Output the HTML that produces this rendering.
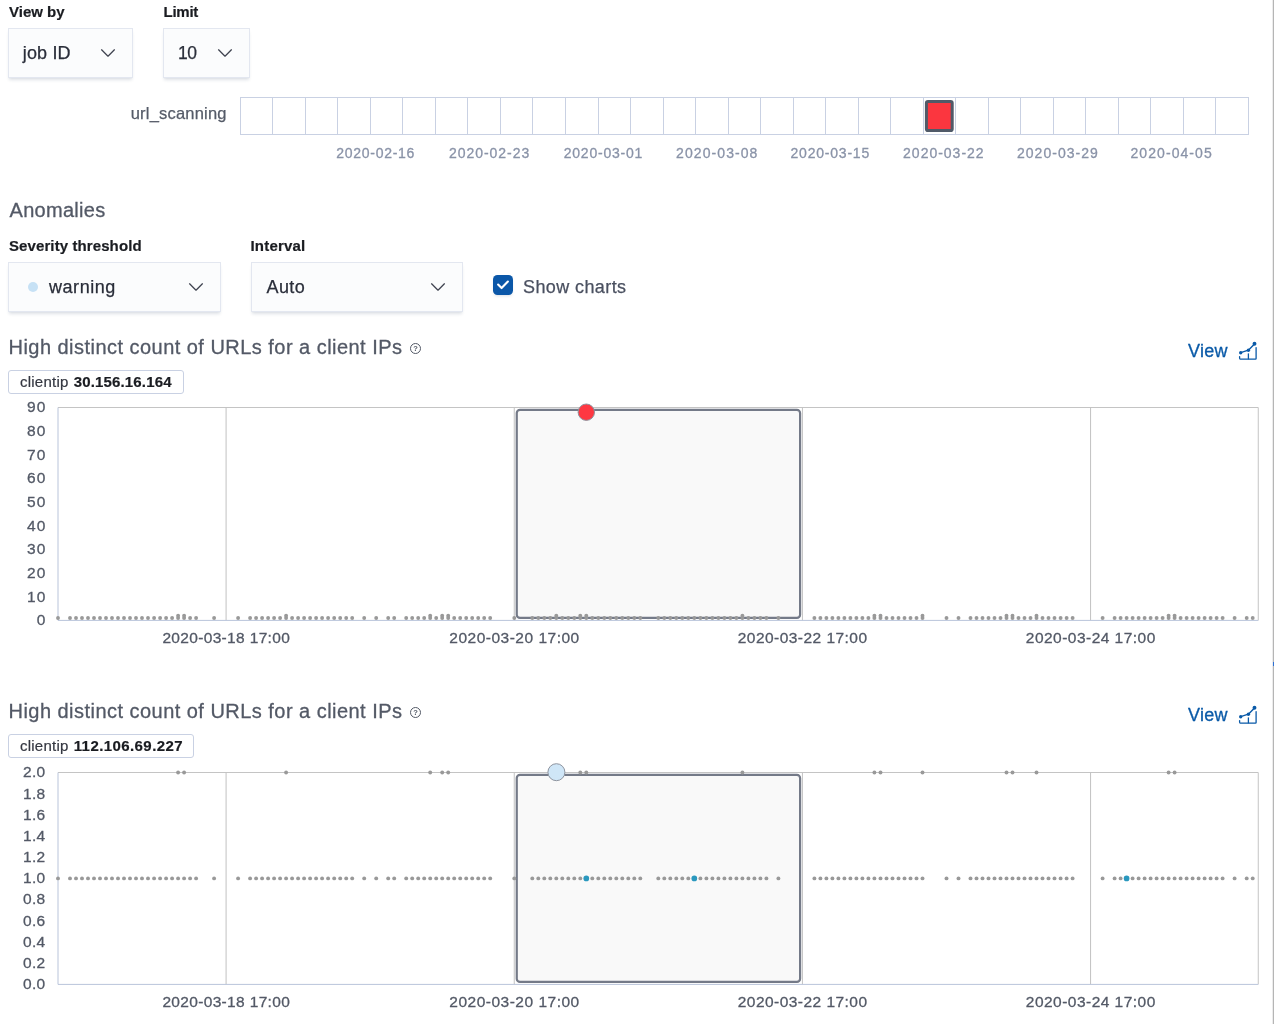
<!DOCTYPE html>
<html lang="en">
<head>
<meta charset="utf-8">
<title>Anomaly Explorer</title>
<style>
html,body{margin:0;padding:0;background:#fff;}
body{width:1274px;height:1024px;position:relative;overflow:hidden;font-family:"Liberation Sans", sans-serif;color:#343741;}
.abs{position:absolute;white-space:nowrap;}
.lbl{-webkit-text-stroke:0.2px;font-size:15px;font-weight:700;color:#1a1c21;line-height:18px;}
.sel{background:#fbfcfd;border:1px solid #e3e7f0;box-shadow:0 3px 3px -1px rgba(152,162,179,.3),0 1px 1px -1px rgba(152,162,179,.25);box-sizing:border-box;height:50px;}
.selt{-webkit-text-stroke:0.25px;font-size:18px;line-height:20px;color:#2a2e3a;}
.h{-webkit-text-stroke:0.3px;letter-spacing:0.465px;font-size:20px;line-height:24px;color:#535966;}
.badge{-webkit-text-stroke:0.2px;letter-spacing:0.26px;box-sizing:border-box;height:24px;border:1px solid #c9d1e3;border-radius:3px;background:#fff;font-size:15px;line-height:22px;color:#343741;padding:0 0 0 10.6px;}
.badge b{color:#1a1c21;letter-spacing:0.42px;margin-left:0.6px;}
.view{-webkit-text-stroke:0.3px;letter-spacing:0.3px;font-size:18px;line-height:20px;color:#0a5aa8;}
svg text.ax,svg text.axx{font-size:15.5px;fill:#535966;stroke:#535966;stroke-width:0.3px;font-family:"Liberation Sans", sans-serif;}
svg text.sd{font-size:14px;fill:#8a93a8;stroke:#8a93a8;stroke-width:0.3px;font-family:"Liberation Sans", sans-serif;}
svg text.sl{letter-spacing:0.2px;font-size:16.5px;fill:#555b68;stroke:#555b68;stroke-width:0.25px;font-family:"Liberation Sans", sans-serif;}
.rail{left:1272px;top:0;width:2px;height:1024px;background:linear-gradient(90deg,#ececec 0,#ececec 50%,#b5b5b5 50%,#b5b5b5 100%);}
</style>
</head>
<body>
<div class="abs lbl" style="left:9px;top:3px">View by</div>
<div class="abs lbl" style="left:163.5px;top:3px;letter-spacing:-0.25px">Limit</div>
<div class="abs sel" style="left:8px;top:28px;width:125px"></div>
<div class="abs selt" style="left:22.8px;top:42.5px;letter-spacing:0.15px">job ID</div>
<svg class="abs" style="left:100px;top:49px" width="16" height="9" viewBox="0 0 16 9"><path d="M1.6 0.8L8 7.2L14.4 0.8" fill="none" stroke="#3f4350" stroke-width="1.25" stroke-linecap="round" stroke-linejoin="round"/></svg>
<div class="abs sel" style="left:163px;top:28px;width:87px"></div>
<div class="abs selt" style="left:178px;top:42.5px;font-size:17.5px;letter-spacing:-0.4px">10</div>
<svg class="abs" style="left:217px;top:49px" width="16" height="9" viewBox="0 0 16 9"><path d="M1.6 0.8L8 7.2L14.4 0.8" fill="none" stroke="#3f4350" stroke-width="1.25" stroke-linecap="round" stroke-linejoin="round"/></svg>

<svg class="abs" style="left:0;top:0" width="1274" height="180" viewBox="0 0 1274 180">
<rect x="240.5" y="97.5" width="1008" height="37" fill="#fff" stroke="#c9d1e3" stroke-width="1"/>
<line x1="272.5" y1="97.5" x2="272.5" y2="134.5" stroke="#c9d1e3" stroke-width="1"/>
<line x1="305.5" y1="97.5" x2="305.5" y2="134.5" stroke="#c9d1e3" stroke-width="1"/>
<line x1="337.5" y1="97.5" x2="337.5" y2="134.5" stroke="#c9d1e3" stroke-width="1"/>
<line x1="370.5" y1="97.5" x2="370.5" y2="134.5" stroke="#c9d1e3" stroke-width="1"/>
<line x1="402.5" y1="97.5" x2="402.5" y2="134.5" stroke="#c9d1e3" stroke-width="1"/>
<line x1="435.5" y1="97.5" x2="435.5" y2="134.5" stroke="#c9d1e3" stroke-width="1"/>
<line x1="467.5" y1="97.5" x2="467.5" y2="134.5" stroke="#c9d1e3" stroke-width="1"/>
<line x1="500.5" y1="97.5" x2="500.5" y2="134.5" stroke="#c9d1e3" stroke-width="1"/>
<line x1="532.5" y1="97.5" x2="532.5" y2="134.5" stroke="#c9d1e3" stroke-width="1"/>
<line x1="565.5" y1="97.5" x2="565.5" y2="134.5" stroke="#c9d1e3" stroke-width="1"/>
<line x1="598.5" y1="97.5" x2="598.5" y2="134.5" stroke="#c9d1e3" stroke-width="1"/>
<line x1="630.5" y1="97.5" x2="630.5" y2="134.5" stroke="#c9d1e3" stroke-width="1"/>
<line x1="663.5" y1="97.5" x2="663.5" y2="134.5" stroke="#c9d1e3" stroke-width="1"/>
<line x1="695.5" y1="97.5" x2="695.5" y2="134.5" stroke="#c9d1e3" stroke-width="1"/>
<line x1="728.5" y1="97.5" x2="728.5" y2="134.5" stroke="#c9d1e3" stroke-width="1"/>
<line x1="760.5" y1="97.5" x2="760.5" y2="134.5" stroke="#c9d1e3" stroke-width="1"/>
<line x1="793.5" y1="97.5" x2="793.5" y2="134.5" stroke="#c9d1e3" stroke-width="1"/>
<line x1="825.5" y1="97.5" x2="825.5" y2="134.5" stroke="#c9d1e3" stroke-width="1"/>
<line x1="858.5" y1="97.5" x2="858.5" y2="134.5" stroke="#c9d1e3" stroke-width="1"/>
<line x1="890.5" y1="97.5" x2="890.5" y2="134.5" stroke="#c9d1e3" stroke-width="1"/>
<line x1="923.5" y1="97.5" x2="923.5" y2="134.5" stroke="#c9d1e3" stroke-width="1"/>
<line x1="955.5" y1="97.5" x2="955.5" y2="134.5" stroke="#c9d1e3" stroke-width="1"/>
<line x1="988.5" y1="97.5" x2="988.5" y2="134.5" stroke="#c9d1e3" stroke-width="1"/>
<line x1="1020.5" y1="97.5" x2="1020.5" y2="134.5" stroke="#c9d1e3" stroke-width="1"/>
<line x1="1053.5" y1="97.5" x2="1053.5" y2="134.5" stroke="#c9d1e3" stroke-width="1"/>
<line x1="1085.5" y1="97.5" x2="1085.5" y2="134.5" stroke="#c9d1e3" stroke-width="1"/>
<line x1="1118.5" y1="97.5" x2="1118.5" y2="134.5" stroke="#c9d1e3" stroke-width="1"/>
<line x1="1150.5" y1="97.5" x2="1150.5" y2="134.5" stroke="#c9d1e3" stroke-width="1"/>
<line x1="1183.5" y1="97.5" x2="1183.5" y2="134.5" stroke="#c9d1e3" stroke-width="1"/>
<line x1="1215.5" y1="97.5" x2="1215.5" y2="134.5" stroke="#c9d1e3" stroke-width="1"/>
<rect x="926.4" y="101.5" width="25.8" height="29" rx="1.6" fill="#fb363f" stroke="#505a68" stroke-width="3"/>
<text x="336.3" y="158" textLength="78.1" lengthAdjust="spacing" class="sd">2020-02-16</text>
<text x="448.9" y="158" textLength="80.3" lengthAdjust="spacing" class="sd">2020-02-23</text>
<text x="563.7" y="158" textLength="78.6" lengthAdjust="spacing" class="sd">2020-03-01</text>
<text x="676.1" y="158" textLength="81.3" lengthAdjust="spacing" class="sd">2020-03-08</text>
<text x="790.5" y="158" textLength="78.7" lengthAdjust="spacing" class="sd">2020-03-15</text>
<text x="903.1" y="158" textLength="80.5" lengthAdjust="spacing" class="sd">2020-03-22</text>
<text x="1016.9" y="158" textLength="81.0" lengthAdjust="spacing" class="sd">2020-03-29</text>
<text x="1130.5" y="158" textLength="81.2" lengthAdjust="spacing" class="sd">2020-04-05</text>
<text x="226.7" y="118.8" text-anchor="end" class="sl">url_scanning</text>
</svg>

<div class="abs h" style="left:9.5px;top:198px;letter-spacing:0.3px">Anomalies</div>
<div class="abs lbl" style="left:9px;top:237px;letter-spacing:0.1px">Severity threshold</div>
<div class="abs lbl" style="left:250.5px;top:237px;letter-spacing:0.2px">Interval</div>
<div class="abs sel" style="left:8px;top:262px;width:213px"></div>
<div class="abs" style="left:27.7px;top:282.2px;width:10px;height:10px;border-radius:50%;background:#c6e1f5"></div>
<div class="abs selt" style="left:49px;top:276.5px;letter-spacing:0.55px">warning</div>
<svg class="abs" style="left:188px;top:283px" width="16" height="9" viewBox="0 0 16 9"><path d="M1.6 0.8L8 7.2L14.4 0.8" fill="none" stroke="#3f4350" stroke-width="1.25" stroke-linecap="round" stroke-linejoin="round"/></svg>
<div class="abs sel" style="left:250.5px;top:262px;width:212px"></div>
<div class="abs selt" style="left:266.5px;top:276.5px;letter-spacing:0.4px">Auto</div>
<svg class="abs" style="left:430px;top:283px" width="16" height="9" viewBox="0 0 16 9"><path d="M1.6 0.8L8 7.2L14.4 0.8" fill="none" stroke="#3f4350" stroke-width="1.25" stroke-linecap="round" stroke-linejoin="round"/></svg>
<div class="abs" style="left:493px;top:275px;width:20px;height:20px;border-radius:4.5px;background:#0b57a8;box-sizing:border-box;box-shadow:0 2px 3px -1px rgba(152,162,179,.35)"></div>
<svg class="abs" style="left:493px;top:275px" width="20" height="20" viewBox="0 0 20 20"><path d="M5.1 9.5L8.6 13.1L14.9 6.6" fill="none" stroke="#fff" stroke-width="2.1" stroke-linecap="round" stroke-linejoin="round"/></svg>
<div class="abs selt" style="left:523px;top:276.5px;letter-spacing:0.4px;color:#4a5060">Show charts</div>

<div class="abs h" style="left:8.5px;top:335px">High distinct count of URLs for a client IPs</div>
<svg class="abs" style="left:409.1px;top:342.2px" width="13" height="13" viewBox="0 0 13 13"><circle cx="6.5" cy="6.5" r="5" fill="none" stroke="#535966" stroke-width="1"/><text x="6.5" y="9.2" text-anchor="middle" font-size="7.5" font-weight="bold" fill="#535966" font-family='"Liberation Sans", sans-serif'>?</text></svg>
<div class="abs view" style="left:1188px;top:341px">View</div>
<svg class="abs" style="left:1238px;top:340px" width="22" height="22" viewBox="0 0 22 22"><g fill="none" stroke="#0a5aa8" stroke-width="1.3" stroke-linecap="round" stroke-linejoin="round"><path d="M1.6 16.6V18.1Q1.6 19.1 2.2 19.1H17.5Q18.1 19.1 18.1 18.5V7.6"/><path d="M10.4 13.8V18.8"/><path d="M2.7 12.7L10.4 10.2L16.5 3.9" stroke-width="1.4"/></g><g fill="#0a5aa8"><circle cx="2.7" cy="12.7" r="1.7"/><circle cx="10.4" cy="10.2" r="1.7"/><circle cx="16.5" cy="3.8" r="1.95"/></g></svg>
<div class="abs badge" style="left:8.3px;top:370px;width:175.5px">clientip <b style="letter-spacing:0.16px">30.156.16.164</b></div>

<div class="abs h" style="left:8.5px;top:699px">High distinct count of URLs for a client IPs</div>
<svg class="abs" style="left:409.1px;top:706.2px" width="13" height="13" viewBox="0 0 13 13"><circle cx="6.5" cy="6.5" r="5" fill="none" stroke="#535966" stroke-width="1"/><text x="6.5" y="9.2" text-anchor="middle" font-size="7.5" font-weight="bold" fill="#535966" font-family='"Liberation Sans", sans-serif'>?</text></svg>
<div class="abs view" style="left:1188px;top:705px">View</div>
<svg class="abs" style="left:1238px;top:704px" width="22" height="22" viewBox="0 0 22 22"><g fill="none" stroke="#0a5aa8" stroke-width="1.3" stroke-linecap="round" stroke-linejoin="round"><path d="M1.6 16.6V18.1Q1.6 19.1 2.2 19.1H17.5Q18.1 19.1 18.1 18.5V7.6"/><path d="M10.4 13.8V18.8"/><path d="M2.7 12.7L10.4 10.2L16.5 3.9" stroke-width="1.4"/></g><g fill="#0a5aa8"><circle cx="2.7" cy="12.7" r="1.7"/><circle cx="10.4" cy="10.2" r="1.7"/><circle cx="16.5" cy="3.8" r="1.95"/></g></svg>
<div class="abs badge" style="left:8.3px;top:734px;width:185.3px">clientip <b>112.106.69.227</b></div>

<svg class="abs" style="left:0;top:0" width="1274" height="1024" viewBox="0 0 1274 1024">
<rect x="58" y="407.5" width="1200.2" height="212.9" fill="#fff" stroke="none"/>
<path d="M58 407.5H1258.25V620.4" fill="none" stroke="#c4c4c4" stroke-width="1"/>
<line x1="226.0924" y1="407.5" x2="226.0924" y2="620.4" stroke="#c2c2c2" stroke-width="1"/>
<line x1="514.2508" y1="407.5" x2="514.2508" y2="620.4" stroke="#c2c2c2" stroke-width="1"/>
<line x1="802.4092" y1="407.5" x2="802.4092" y2="620.4" stroke="#c2c2c2" stroke-width="1"/>
<line x1="1090.5676" y1="407.5" x2="1090.5676" y2="620.4" stroke="#c2c2c2" stroke-width="1"/>
<path d="M58 407.5V620.4H1258.25" fill="none" stroke="#b9c4da" stroke-width="1"/>
<rect x="516.75" y="409.90" width="283.35" height="208.00" rx="3.2" ry="3.2" fill="#f9f9f9" stroke="#747a88" stroke-width="2.2"/>
<circle cx="58.0" cy="618.0" r="1.95" fill="#999"/>
<circle cx="70.0" cy="618.0" r="1.95" fill="#999"/>
<circle cx="76.0" cy="618.0" r="1.95" fill="#999"/>
<circle cx="82.0" cy="618.0" r="1.95" fill="#999"/>
<circle cx="88.0" cy="618.0" r="1.95" fill="#999"/>
<circle cx="94.0" cy="618.0" r="1.95" fill="#999"/>
<circle cx="100.0" cy="618.0" r="1.95" fill="#999"/>
<circle cx="106.0" cy="618.0" r="1.95" fill="#999"/>
<circle cx="112.0" cy="618.0" r="1.95" fill="#999"/>
<circle cx="118.0" cy="618.0" r="1.95" fill="#999"/>
<circle cx="124.0" cy="618.0" r="1.95" fill="#999"/>
<circle cx="130.0" cy="618.0" r="1.95" fill="#999"/>
<circle cx="136.0" cy="618.0" r="1.95" fill="#999"/>
<circle cx="142.0" cy="618.0" r="1.95" fill="#999"/>
<circle cx="148.0" cy="618.0" r="1.95" fill="#999"/>
<circle cx="154.1" cy="618.0" r="1.95" fill="#999"/>
<circle cx="160.1" cy="618.0" r="1.95" fill="#999"/>
<circle cx="166.1" cy="618.0" r="1.95" fill="#999"/>
<circle cx="172.1" cy="618.0" r="1.95" fill="#999"/>
<circle cx="178.1" cy="618.0" r="1.95" fill="#999"/>
<circle cx="184.1" cy="618.0" r="1.95" fill="#999"/>
<circle cx="190.1" cy="618.0" r="1.95" fill="#999"/>
<circle cx="196.1" cy="618.0" r="1.95" fill="#999"/>
<circle cx="214.1" cy="618.0" r="1.95" fill="#999"/>
<circle cx="238.1" cy="618.0" r="1.95" fill="#999"/>
<circle cx="250.1" cy="618.0" r="1.95" fill="#999"/>
<circle cx="256.1" cy="618.0" r="1.95" fill="#999"/>
<circle cx="262.1" cy="618.0" r="1.95" fill="#999"/>
<circle cx="268.1" cy="618.0" r="1.95" fill="#999"/>
<circle cx="274.1" cy="618.0" r="1.95" fill="#999"/>
<circle cx="280.1" cy="618.0" r="1.95" fill="#999"/>
<circle cx="286.1" cy="618.0" r="1.95" fill="#999"/>
<circle cx="292.1" cy="618.0" r="1.95" fill="#999"/>
<circle cx="298.1" cy="618.0" r="1.95" fill="#999"/>
<circle cx="304.1" cy="618.0" r="1.95" fill="#999"/>
<circle cx="310.1" cy="618.0" r="1.95" fill="#999"/>
<circle cx="316.1" cy="618.0" r="1.95" fill="#999"/>
<circle cx="322.1" cy="618.0" r="1.95" fill="#999"/>
<circle cx="328.1" cy="618.0" r="1.95" fill="#999"/>
<circle cx="334.2" cy="618.0" r="1.95" fill="#999"/>
<circle cx="340.2" cy="618.0" r="1.95" fill="#999"/>
<circle cx="346.2" cy="618.0" r="1.95" fill="#999"/>
<circle cx="352.2" cy="618.0" r="1.95" fill="#999"/>
<circle cx="364.2" cy="618.0" r="1.95" fill="#999"/>
<circle cx="376.2" cy="618.0" r="1.95" fill="#999"/>
<circle cx="388.2" cy="618.0" r="1.95" fill="#999"/>
<circle cx="394.2" cy="618.0" r="1.95" fill="#999"/>
<circle cx="406.2" cy="618.0" r="1.95" fill="#999"/>
<circle cx="412.2" cy="618.0" r="1.95" fill="#999"/>
<circle cx="418.2" cy="618.0" r="1.95" fill="#999"/>
<circle cx="424.2" cy="618.0" r="1.95" fill="#999"/>
<circle cx="430.2" cy="618.0" r="1.95" fill="#999"/>
<circle cx="436.2" cy="618.0" r="1.95" fill="#999"/>
<circle cx="442.2" cy="618.0" r="1.95" fill="#999"/>
<circle cx="448.2" cy="618.0" r="1.95" fill="#999"/>
<circle cx="454.2" cy="618.0" r="1.95" fill="#999"/>
<circle cx="460.2" cy="618.0" r="1.95" fill="#999"/>
<circle cx="466.2" cy="618.0" r="1.95" fill="#999"/>
<circle cx="472.2" cy="618.0" r="1.95" fill="#999"/>
<circle cx="478.2" cy="618.0" r="1.95" fill="#999"/>
<circle cx="484.2" cy="618.0" r="1.95" fill="#999"/>
<circle cx="490.2" cy="618.0" r="1.95" fill="#999"/>
<circle cx="514.3" cy="618.0" r="1.95" fill="#999"/>
<circle cx="532.3" cy="618.0" r="1.95" fill="#999"/>
<circle cx="538.3" cy="618.0" r="1.95" fill="#999"/>
<circle cx="544.3" cy="618.0" r="1.95" fill="#999"/>
<circle cx="550.3" cy="618.0" r="1.95" fill="#999"/>
<circle cx="556.3" cy="618.0" r="1.95" fill="#999"/>
<circle cx="562.3" cy="618.0" r="1.95" fill="#999"/>
<circle cx="568.3" cy="618.0" r="1.95" fill="#999"/>
<circle cx="574.3" cy="618.0" r="1.95" fill="#999"/>
<circle cx="580.3" cy="618.0" r="1.95" fill="#999"/>
<circle cx="586.3" cy="618.0" r="1.95" fill="#999"/>
<circle cx="592.3" cy="618.0" r="1.95" fill="#999"/>
<circle cx="598.3" cy="618.0" r="1.95" fill="#999"/>
<circle cx="604.3" cy="618.0" r="1.95" fill="#999"/>
<circle cx="610.3" cy="618.0" r="1.95" fill="#999"/>
<circle cx="616.3" cy="618.0" r="1.95" fill="#999"/>
<circle cx="622.3" cy="618.0" r="1.95" fill="#999"/>
<circle cx="628.3" cy="618.0" r="1.95" fill="#999"/>
<circle cx="634.3" cy="618.0" r="1.95" fill="#999"/>
<circle cx="640.3" cy="618.0" r="1.95" fill="#999"/>
<circle cx="658.3" cy="618.0" r="1.95" fill="#999"/>
<circle cx="664.3" cy="618.0" r="1.95" fill="#999"/>
<circle cx="670.3" cy="618.0" r="1.95" fill="#999"/>
<circle cx="676.3" cy="618.0" r="1.95" fill="#999"/>
<circle cx="682.3" cy="618.0" r="1.95" fill="#999"/>
<circle cx="688.3" cy="618.0" r="1.95" fill="#999"/>
<circle cx="694.3" cy="618.0" r="1.95" fill="#999"/>
<circle cx="700.4" cy="618.0" r="1.95" fill="#999"/>
<circle cx="706.4" cy="618.0" r="1.95" fill="#999"/>
<circle cx="712.4" cy="618.0" r="1.95" fill="#999"/>
<circle cx="718.4" cy="618.0" r="1.95" fill="#999"/>
<circle cx="724.4" cy="618.0" r="1.95" fill="#999"/>
<circle cx="730.4" cy="618.0" r="1.95" fill="#999"/>
<circle cx="736.4" cy="618.0" r="1.95" fill="#999"/>
<circle cx="742.4" cy="618.0" r="1.95" fill="#999"/>
<circle cx="748.4" cy="618.0" r="1.95" fill="#999"/>
<circle cx="754.4" cy="618.0" r="1.95" fill="#999"/>
<circle cx="760.4" cy="618.0" r="1.95" fill="#999"/>
<circle cx="766.4" cy="618.0" r="1.95" fill="#999"/>
<circle cx="778.4" cy="618.0" r="1.95" fill="#999"/>
<circle cx="814.4" cy="618.0" r="1.95" fill="#999"/>
<circle cx="820.4" cy="618.0" r="1.95" fill="#999"/>
<circle cx="826.4" cy="618.0" r="1.95" fill="#999"/>
<circle cx="832.4" cy="618.0" r="1.95" fill="#999"/>
<circle cx="838.4" cy="618.0" r="1.95" fill="#999"/>
<circle cx="844.4" cy="618.0" r="1.95" fill="#999"/>
<circle cx="850.4" cy="618.0" r="1.95" fill="#999"/>
<circle cx="856.4" cy="618.0" r="1.95" fill="#999"/>
<circle cx="862.4" cy="618.0" r="1.95" fill="#999"/>
<circle cx="868.4" cy="618.0" r="1.95" fill="#999"/>
<circle cx="874.4" cy="618.0" r="1.95" fill="#999"/>
<circle cx="880.5" cy="618.0" r="1.95" fill="#999"/>
<circle cx="886.5" cy="618.0" r="1.95" fill="#999"/>
<circle cx="892.5" cy="618.0" r="1.95" fill="#999"/>
<circle cx="898.5" cy="618.0" r="1.95" fill="#999"/>
<circle cx="904.5" cy="618.0" r="1.95" fill="#999"/>
<circle cx="910.5" cy="618.0" r="1.95" fill="#999"/>
<circle cx="916.5" cy="618.0" r="1.95" fill="#999"/>
<circle cx="922.5" cy="618.0" r="1.95" fill="#999"/>
<circle cx="946.5" cy="618.0" r="1.95" fill="#999"/>
<circle cx="958.5" cy="618.0" r="1.95" fill="#999"/>
<circle cx="970.5" cy="618.0" r="1.95" fill="#999"/>
<circle cx="976.5" cy="618.0" r="1.95" fill="#999"/>
<circle cx="982.5" cy="618.0" r="1.95" fill="#999"/>
<circle cx="988.5" cy="618.0" r="1.95" fill="#999"/>
<circle cx="994.5" cy="618.0" r="1.95" fill="#999"/>
<circle cx="1000.5" cy="618.0" r="1.95" fill="#999"/>
<circle cx="1006.5" cy="618.0" r="1.95" fill="#999"/>
<circle cx="1012.5" cy="618.0" r="1.95" fill="#999"/>
<circle cx="1018.5" cy="618.0" r="1.95" fill="#999"/>
<circle cx="1024.5" cy="618.0" r="1.95" fill="#999"/>
<circle cx="1030.5" cy="618.0" r="1.95" fill="#999"/>
<circle cx="1036.5" cy="618.0" r="1.95" fill="#999"/>
<circle cx="1042.5" cy="618.0" r="1.95" fill="#999"/>
<circle cx="1048.5" cy="618.0" r="1.95" fill="#999"/>
<circle cx="1054.5" cy="618.0" r="1.95" fill="#999"/>
<circle cx="1060.6" cy="618.0" r="1.95" fill="#999"/>
<circle cx="1066.6" cy="618.0" r="1.95" fill="#999"/>
<circle cx="1072.6" cy="618.0" r="1.95" fill="#999"/>
<circle cx="1102.6" cy="618.0" r="1.95" fill="#999"/>
<circle cx="1114.6" cy="618.0" r="1.95" fill="#999"/>
<circle cx="1120.6" cy="618.0" r="1.95" fill="#999"/>
<circle cx="1126.6" cy="618.0" r="1.95" fill="#999"/>
<circle cx="1132.6" cy="618.0" r="1.95" fill="#999"/>
<circle cx="1138.6" cy="618.0" r="1.95" fill="#999"/>
<circle cx="1144.6" cy="618.0" r="1.95" fill="#999"/>
<circle cx="1150.6" cy="618.0" r="1.95" fill="#999"/>
<circle cx="1156.6" cy="618.0" r="1.95" fill="#999"/>
<circle cx="1162.6" cy="618.0" r="1.95" fill="#999"/>
<circle cx="1168.6" cy="618.0" r="1.95" fill="#999"/>
<circle cx="1174.6" cy="618.0" r="1.95" fill="#999"/>
<circle cx="1180.6" cy="618.0" r="1.95" fill="#999"/>
<circle cx="1186.6" cy="618.0" r="1.95" fill="#999"/>
<circle cx="1192.6" cy="618.0" r="1.95" fill="#999"/>
<circle cx="1198.6" cy="618.0" r="1.95" fill="#999"/>
<circle cx="1204.6" cy="618.0" r="1.95" fill="#999"/>
<circle cx="1210.6" cy="618.0" r="1.95" fill="#999"/>
<circle cx="1216.6" cy="618.0" r="1.95" fill="#999"/>
<circle cx="1222.6" cy="618.0" r="1.95" fill="#999"/>
<circle cx="1234.6" cy="618.0" r="1.95" fill="#999"/>
<circle cx="1246.7" cy="618.0" r="1.95" fill="#999"/>
<circle cx="1252.7" cy="618.0" r="1.95" fill="#999"/>
<circle cx="178.1" cy="615.7" r="1.95" fill="#999"/>
<circle cx="184.1" cy="615.7" r="1.95" fill="#999"/>
<circle cx="286.1" cy="615.7" r="1.95" fill="#999"/>
<circle cx="430.2" cy="615.7" r="1.95" fill="#999"/>
<circle cx="442.2" cy="615.7" r="1.95" fill="#999"/>
<circle cx="448.2" cy="615.7" r="1.95" fill="#999"/>
<circle cx="556.3" cy="615.7" r="1.95" fill="#999"/>
<circle cx="580.3" cy="615.7" r="1.95" fill="#999"/>
<circle cx="586.3" cy="615.7" r="1.95" fill="#999"/>
<circle cx="742.4" cy="615.7" r="1.95" fill="#999"/>
<circle cx="874.4" cy="615.7" r="1.95" fill="#999"/>
<circle cx="880.5" cy="615.7" r="1.95" fill="#999"/>
<circle cx="922.5" cy="615.7" r="1.95" fill="#999"/>
<circle cx="1006.5" cy="615.7" r="1.95" fill="#999"/>
<circle cx="1012.5" cy="615.7" r="1.95" fill="#999"/>
<circle cx="1036.5" cy="615.7" r="1.95" fill="#999"/>
<circle cx="1168.6" cy="615.7" r="1.95" fill="#999"/>
<circle cx="1174.6" cy="615.7" r="1.95" fill="#999"/>
<circle cx="586.3" cy="412.2" r="8.2" fill="#fe3842" stroke="#8e949f" stroke-width="1"/>
<text x="46.3" y="412.3" text-anchor="end" class="ax" style="letter-spacing:1.0px">90</text>
<text x="46.3" y="436.0" text-anchor="end" class="ax" style="letter-spacing:1.0px">80</text>
<text x="46.3" y="459.6" text-anchor="end" class="ax" style="letter-spacing:1.0px">70</text>
<text x="46.3" y="483.3" text-anchor="end" class="ax" style="letter-spacing:1.0px">60</text>
<text x="46.3" y="506.9" text-anchor="end" class="ax" style="letter-spacing:1.0px">50</text>
<text x="46.3" y="530.6" text-anchor="end" class="ax" style="letter-spacing:1.0px">40</text>
<text x="46.3" y="554.2" text-anchor="end" class="ax" style="letter-spacing:1.0px">30</text>
<text x="46.3" y="577.9" text-anchor="end" class="ax" style="letter-spacing:1.0px">20</text>
<text x="46.3" y="601.5" text-anchor="end" class="ax" style="letter-spacing:1.0px">10</text>
<text x="46.3" y="625.2" text-anchor="end" class="ax" style="letter-spacing:1.0px">0</text>
<text x="162.4" y="643.3" textLength="127.4" lengthAdjust="spacing" class="axx">2020-03-18 17:00</text>
<text x="449.3" y="643.3" textLength="129.9" lengthAdjust="spacing" class="axx">2020-03-20 17:00</text>
<text x="737.8" y="643.3" textLength="129.2" lengthAdjust="spacing" class="axx">2020-03-22 17:00</text>
<text x="1025.8" y="643.3" textLength="129.5" lengthAdjust="spacing" class="axx">2020-03-24 17:00</text>
<rect x="58" y="772.5" width="1200.2" height="211.9" fill="#fff" stroke="none"/>
<path d="M58 772.5H1258.25V984.4" fill="none" stroke="#c4c4c4" stroke-width="1"/>
<line x1="226.0924" y1="772.5" x2="226.0924" y2="984.4" stroke="#c2c2c2" stroke-width="1"/>
<line x1="514.2508" y1="772.5" x2="514.2508" y2="984.4" stroke="#c2c2c2" stroke-width="1"/>
<line x1="802.4092" y1="772.5" x2="802.4092" y2="984.4" stroke="#c2c2c2" stroke-width="1"/>
<line x1="1090.5676" y1="772.5" x2="1090.5676" y2="984.4" stroke="#c2c2c2" stroke-width="1"/>
<path d="M58 772.5V984.4H1258.25" fill="none" stroke="#b9c4da" stroke-width="1"/>
<rect x="516.75" y="774.90" width="283.35" height="207.00" rx="3.2" ry="3.2" fill="#f9f9f9" stroke="#747a88" stroke-width="2.2"/>
<circle cx="58.0" cy="878.4" r="1.95" fill="#999"/>
<circle cx="70.0" cy="878.4" r="1.95" fill="#999"/>
<circle cx="76.0" cy="878.4" r="1.95" fill="#999"/>
<circle cx="82.0" cy="878.4" r="1.95" fill="#999"/>
<circle cx="88.0" cy="878.4" r="1.95" fill="#999"/>
<circle cx="94.0" cy="878.4" r="1.95" fill="#999"/>
<circle cx="100.0" cy="878.4" r="1.95" fill="#999"/>
<circle cx="106.0" cy="878.4" r="1.95" fill="#999"/>
<circle cx="112.0" cy="878.4" r="1.95" fill="#999"/>
<circle cx="118.0" cy="878.4" r="1.95" fill="#999"/>
<circle cx="124.0" cy="878.4" r="1.95" fill="#999"/>
<circle cx="130.0" cy="878.4" r="1.95" fill="#999"/>
<circle cx="136.0" cy="878.4" r="1.95" fill="#999"/>
<circle cx="142.0" cy="878.4" r="1.95" fill="#999"/>
<circle cx="148.0" cy="878.4" r="1.95" fill="#999"/>
<circle cx="154.1" cy="878.4" r="1.95" fill="#999"/>
<circle cx="160.1" cy="878.4" r="1.95" fill="#999"/>
<circle cx="166.1" cy="878.4" r="1.95" fill="#999"/>
<circle cx="172.1" cy="878.4" r="1.95" fill="#999"/>
<circle cx="178.1" cy="878.4" r="1.95" fill="#999"/>
<circle cx="184.1" cy="878.4" r="1.95" fill="#999"/>
<circle cx="190.1" cy="878.4" r="1.95" fill="#999"/>
<circle cx="196.1" cy="878.4" r="1.95" fill="#999"/>
<circle cx="214.1" cy="878.4" r="1.95" fill="#999"/>
<circle cx="238.1" cy="878.4" r="1.95" fill="#999"/>
<circle cx="250.1" cy="878.4" r="1.95" fill="#999"/>
<circle cx="256.1" cy="878.4" r="1.95" fill="#999"/>
<circle cx="262.1" cy="878.4" r="1.95" fill="#999"/>
<circle cx="268.1" cy="878.4" r="1.95" fill="#999"/>
<circle cx="274.1" cy="878.4" r="1.95" fill="#999"/>
<circle cx="280.1" cy="878.4" r="1.95" fill="#999"/>
<circle cx="286.1" cy="878.4" r="1.95" fill="#999"/>
<circle cx="292.1" cy="878.4" r="1.95" fill="#999"/>
<circle cx="298.1" cy="878.4" r="1.95" fill="#999"/>
<circle cx="304.1" cy="878.4" r="1.95" fill="#999"/>
<circle cx="310.1" cy="878.4" r="1.95" fill="#999"/>
<circle cx="316.1" cy="878.4" r="1.95" fill="#999"/>
<circle cx="322.1" cy="878.4" r="1.95" fill="#999"/>
<circle cx="328.1" cy="878.4" r="1.95" fill="#999"/>
<circle cx="334.2" cy="878.4" r="1.95" fill="#999"/>
<circle cx="340.2" cy="878.4" r="1.95" fill="#999"/>
<circle cx="346.2" cy="878.4" r="1.95" fill="#999"/>
<circle cx="352.2" cy="878.4" r="1.95" fill="#999"/>
<circle cx="364.2" cy="878.4" r="1.95" fill="#999"/>
<circle cx="376.2" cy="878.4" r="1.95" fill="#999"/>
<circle cx="388.2" cy="878.4" r="1.95" fill="#999"/>
<circle cx="394.2" cy="878.4" r="1.95" fill="#999"/>
<circle cx="406.2" cy="878.4" r="1.95" fill="#999"/>
<circle cx="412.2" cy="878.4" r="1.95" fill="#999"/>
<circle cx="418.2" cy="878.4" r="1.95" fill="#999"/>
<circle cx="424.2" cy="878.4" r="1.95" fill="#999"/>
<circle cx="430.2" cy="878.4" r="1.95" fill="#999"/>
<circle cx="436.2" cy="878.4" r="1.95" fill="#999"/>
<circle cx="442.2" cy="878.4" r="1.95" fill="#999"/>
<circle cx="448.2" cy="878.4" r="1.95" fill="#999"/>
<circle cx="454.2" cy="878.4" r="1.95" fill="#999"/>
<circle cx="460.2" cy="878.4" r="1.95" fill="#999"/>
<circle cx="466.2" cy="878.4" r="1.95" fill="#999"/>
<circle cx="472.2" cy="878.4" r="1.95" fill="#999"/>
<circle cx="478.2" cy="878.4" r="1.95" fill="#999"/>
<circle cx="484.2" cy="878.4" r="1.95" fill="#999"/>
<circle cx="490.2" cy="878.4" r="1.95" fill="#999"/>
<circle cx="514.3" cy="878.4" r="1.95" fill="#999"/>
<circle cx="532.3" cy="878.4" r="1.95" fill="#999"/>
<circle cx="538.3" cy="878.4" r="1.95" fill="#999"/>
<circle cx="544.3" cy="878.4" r="1.95" fill="#999"/>
<circle cx="550.3" cy="878.4" r="1.95" fill="#999"/>
<circle cx="556.3" cy="878.4" r="1.95" fill="#999"/>
<circle cx="562.3" cy="878.4" r="1.95" fill="#999"/>
<circle cx="568.3" cy="878.4" r="1.95" fill="#999"/>
<circle cx="574.3" cy="878.4" r="1.95" fill="#999"/>
<circle cx="580.3" cy="878.4" r="1.95" fill="#999"/>
<circle cx="586.3" cy="878.4" r="1.95" fill="#999"/>
<circle cx="592.3" cy="878.4" r="1.95" fill="#999"/>
<circle cx="598.3" cy="878.4" r="1.95" fill="#999"/>
<circle cx="604.3" cy="878.4" r="1.95" fill="#999"/>
<circle cx="610.3" cy="878.4" r="1.95" fill="#999"/>
<circle cx="616.3" cy="878.4" r="1.95" fill="#999"/>
<circle cx="622.3" cy="878.4" r="1.95" fill="#999"/>
<circle cx="628.3" cy="878.4" r="1.95" fill="#999"/>
<circle cx="634.3" cy="878.4" r="1.95" fill="#999"/>
<circle cx="640.3" cy="878.4" r="1.95" fill="#999"/>
<circle cx="658.3" cy="878.4" r="1.95" fill="#999"/>
<circle cx="664.3" cy="878.4" r="1.95" fill="#999"/>
<circle cx="670.3" cy="878.4" r="1.95" fill="#999"/>
<circle cx="676.3" cy="878.4" r="1.95" fill="#999"/>
<circle cx="682.3" cy="878.4" r="1.95" fill="#999"/>
<circle cx="688.3" cy="878.4" r="1.95" fill="#999"/>
<circle cx="694.3" cy="878.4" r="1.95" fill="#999"/>
<circle cx="700.4" cy="878.4" r="1.95" fill="#999"/>
<circle cx="706.4" cy="878.4" r="1.95" fill="#999"/>
<circle cx="712.4" cy="878.4" r="1.95" fill="#999"/>
<circle cx="718.4" cy="878.4" r="1.95" fill="#999"/>
<circle cx="724.4" cy="878.4" r="1.95" fill="#999"/>
<circle cx="730.4" cy="878.4" r="1.95" fill="#999"/>
<circle cx="736.4" cy="878.4" r="1.95" fill="#999"/>
<circle cx="742.4" cy="878.4" r="1.95" fill="#999"/>
<circle cx="748.4" cy="878.4" r="1.95" fill="#999"/>
<circle cx="754.4" cy="878.4" r="1.95" fill="#999"/>
<circle cx="760.4" cy="878.4" r="1.95" fill="#999"/>
<circle cx="766.4" cy="878.4" r="1.95" fill="#999"/>
<circle cx="778.4" cy="878.4" r="1.95" fill="#999"/>
<circle cx="814.4" cy="878.4" r="1.95" fill="#999"/>
<circle cx="820.4" cy="878.4" r="1.95" fill="#999"/>
<circle cx="826.4" cy="878.4" r="1.95" fill="#999"/>
<circle cx="832.4" cy="878.4" r="1.95" fill="#999"/>
<circle cx="838.4" cy="878.4" r="1.95" fill="#999"/>
<circle cx="844.4" cy="878.4" r="1.95" fill="#999"/>
<circle cx="850.4" cy="878.4" r="1.95" fill="#999"/>
<circle cx="856.4" cy="878.4" r="1.95" fill="#999"/>
<circle cx="862.4" cy="878.4" r="1.95" fill="#999"/>
<circle cx="868.4" cy="878.4" r="1.95" fill="#999"/>
<circle cx="874.4" cy="878.4" r="1.95" fill="#999"/>
<circle cx="880.5" cy="878.4" r="1.95" fill="#999"/>
<circle cx="886.5" cy="878.4" r="1.95" fill="#999"/>
<circle cx="892.5" cy="878.4" r="1.95" fill="#999"/>
<circle cx="898.5" cy="878.4" r="1.95" fill="#999"/>
<circle cx="904.5" cy="878.4" r="1.95" fill="#999"/>
<circle cx="910.5" cy="878.4" r="1.95" fill="#999"/>
<circle cx="916.5" cy="878.4" r="1.95" fill="#999"/>
<circle cx="922.5" cy="878.4" r="1.95" fill="#999"/>
<circle cx="946.5" cy="878.4" r="1.95" fill="#999"/>
<circle cx="958.5" cy="878.4" r="1.95" fill="#999"/>
<circle cx="970.5" cy="878.4" r="1.95" fill="#999"/>
<circle cx="976.5" cy="878.4" r="1.95" fill="#999"/>
<circle cx="982.5" cy="878.4" r="1.95" fill="#999"/>
<circle cx="988.5" cy="878.4" r="1.95" fill="#999"/>
<circle cx="994.5" cy="878.4" r="1.95" fill="#999"/>
<circle cx="1000.5" cy="878.4" r="1.95" fill="#999"/>
<circle cx="1006.5" cy="878.4" r="1.95" fill="#999"/>
<circle cx="1012.5" cy="878.4" r="1.95" fill="#999"/>
<circle cx="1018.5" cy="878.4" r="1.95" fill="#999"/>
<circle cx="1024.5" cy="878.4" r="1.95" fill="#999"/>
<circle cx="1030.5" cy="878.4" r="1.95" fill="#999"/>
<circle cx="1036.5" cy="878.4" r="1.95" fill="#999"/>
<circle cx="1042.5" cy="878.4" r="1.95" fill="#999"/>
<circle cx="1048.5" cy="878.4" r="1.95" fill="#999"/>
<circle cx="1054.5" cy="878.4" r="1.95" fill="#999"/>
<circle cx="1060.6" cy="878.4" r="1.95" fill="#999"/>
<circle cx="1066.6" cy="878.4" r="1.95" fill="#999"/>
<circle cx="1072.6" cy="878.4" r="1.95" fill="#999"/>
<circle cx="1102.6" cy="878.4" r="1.95" fill="#999"/>
<circle cx="1114.6" cy="878.4" r="1.95" fill="#999"/>
<circle cx="1120.6" cy="878.4" r="1.95" fill="#999"/>
<circle cx="1126.6" cy="878.4" r="1.95" fill="#999"/>
<circle cx="1132.6" cy="878.4" r="1.95" fill="#999"/>
<circle cx="1138.6" cy="878.4" r="1.95" fill="#999"/>
<circle cx="1144.6" cy="878.4" r="1.95" fill="#999"/>
<circle cx="1150.6" cy="878.4" r="1.95" fill="#999"/>
<circle cx="1156.6" cy="878.4" r="1.95" fill="#999"/>
<circle cx="1162.6" cy="878.4" r="1.95" fill="#999"/>
<circle cx="1168.6" cy="878.4" r="1.95" fill="#999"/>
<circle cx="1174.6" cy="878.4" r="1.95" fill="#999"/>
<circle cx="1180.6" cy="878.4" r="1.95" fill="#999"/>
<circle cx="1186.6" cy="878.4" r="1.95" fill="#999"/>
<circle cx="1192.6" cy="878.4" r="1.95" fill="#999"/>
<circle cx="1198.6" cy="878.4" r="1.95" fill="#999"/>
<circle cx="1204.6" cy="878.4" r="1.95" fill="#999"/>
<circle cx="1210.6" cy="878.4" r="1.95" fill="#999"/>
<circle cx="1216.6" cy="878.4" r="1.95" fill="#999"/>
<circle cx="1222.6" cy="878.4" r="1.95" fill="#999"/>
<circle cx="1234.6" cy="878.4" r="1.95" fill="#999"/>
<circle cx="1246.7" cy="878.4" r="1.95" fill="#999"/>
<circle cx="1252.7" cy="878.4" r="1.95" fill="#999"/>
<circle cx="178.1" cy="772.5" r="1.95" fill="#999"/>
<circle cx="184.1" cy="772.5" r="1.95" fill="#999"/>
<circle cx="286.1" cy="772.5" r="1.95" fill="#999"/>
<circle cx="430.2" cy="772.5" r="1.95" fill="#999"/>
<circle cx="442.2" cy="772.5" r="1.95" fill="#999"/>
<circle cx="448.2" cy="772.5" r="1.95" fill="#999"/>
<circle cx="556.3" cy="772.5" r="1.95" fill="#999"/>
<circle cx="580.3" cy="772.5" r="1.95" fill="#999"/>
<circle cx="586.3" cy="772.5" r="1.95" fill="#999"/>
<circle cx="742.4" cy="772.5" r="1.95" fill="#999"/>
<circle cx="874.4" cy="772.5" r="1.95" fill="#999"/>
<circle cx="880.5" cy="772.5" r="1.95" fill="#999"/>
<circle cx="922.5" cy="772.5" r="1.95" fill="#999"/>
<circle cx="1006.5" cy="772.5" r="1.95" fill="#999"/>
<circle cx="1012.5" cy="772.5" r="1.95" fill="#999"/>
<circle cx="1036.5" cy="772.5" r="1.95" fill="#999"/>
<circle cx="1168.6" cy="772.5" r="1.95" fill="#999"/>
<circle cx="1174.6" cy="772.5" r="1.95" fill="#999"/>
<circle cx="586.3" cy="878.4" r="2.85" fill="#2a98be"/>
<circle cx="694.3" cy="878.4" r="2.85" fill="#2a98be"/>
<circle cx="1126.6" cy="878.4" r="2.85" fill="#2a98be"/>
<circle cx="556.4" cy="772.2" r="8.5" fill="#cfe6f7" stroke="#8e949f" stroke-width="1"/>
<text x="45.6" y="777.3" text-anchor="end" class="ax" style="letter-spacing:0.35px">2.0</text>
<text x="45.6" y="798.5" text-anchor="end" class="ax" style="letter-spacing:0.35px">1.8</text>
<text x="45.6" y="819.7" text-anchor="end" class="ax" style="letter-spacing:0.35px">1.6</text>
<text x="45.6" y="840.9" text-anchor="end" class="ax" style="letter-spacing:0.35px">1.4</text>
<text x="45.6" y="862.1" text-anchor="end" class="ax" style="letter-spacing:0.35px">1.2</text>
<text x="45.6" y="883.2" text-anchor="end" class="ax" style="letter-spacing:0.35px">1.0</text>
<text x="45.6" y="904.4" text-anchor="end" class="ax" style="letter-spacing:0.35px">0.8</text>
<text x="45.6" y="925.6" text-anchor="end" class="ax" style="letter-spacing:0.35px">0.6</text>
<text x="45.6" y="946.8" text-anchor="end" class="ax" style="letter-spacing:0.35px">0.4</text>
<text x="45.6" y="968.0" text-anchor="end" class="ax" style="letter-spacing:0.35px">0.2</text>
<text x="45.6" y="989.2" text-anchor="end" class="ax" style="letter-spacing:0.35px">0.0</text>
<text x="162.4" y="1007.3" textLength="127.4" lengthAdjust="spacing" class="axx">2020-03-18 17:00</text>
<text x="449.3" y="1007.3" textLength="129.9" lengthAdjust="spacing" class="axx">2020-03-20 17:00</text>
<text x="737.8" y="1007.3" textLength="129.2" lengthAdjust="spacing" class="axx">2020-03-22 17:00</text>
<text x="1025.8" y="1007.3" textLength="129.5" lengthAdjust="spacing" class="axx">2020-03-24 17:00</text>
</svg>
<div class="abs rail"></div>
<div class="abs" style="left:1272.5px;top:662px;width:1.5px;height:4px;background:#2b6fd6"></div>
</body>
</html>
